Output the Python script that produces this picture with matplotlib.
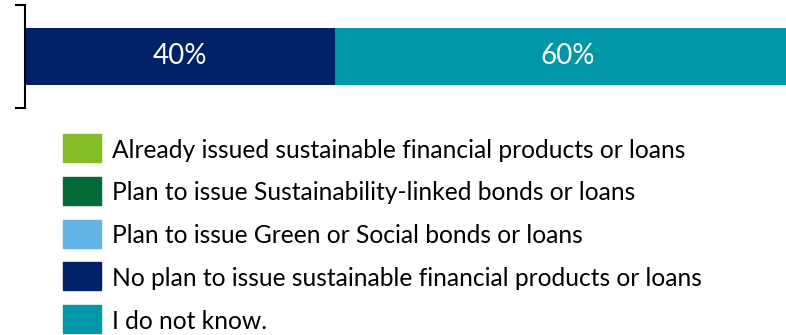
import matplotlib.pyplot as plt
from matplotlib.patches import Rectangle

plt.rcParams['font.family'] = ['Lato', 'DejaVu Sans']

categories = [
    'Already issued sustainable financial products or loans',
    'Plan to issue Sustainability-linked bonds or loans',
    'Plan to issue Green or Social bonds or loans',
    'No plan to issue sustainable financial products or loans',
    'I do not know.',
]
shares = [0, 0, 0, 40, 60]
colors = ['#86bc25', '#046a38', '#62b5e5', '#012169', '#0097a9']

W, H = 786, 335
fig = plt.figure(figsize=(W / 100, H / 100), dpi=100)
# axes run a little past the right edge, so the bar is cut off there
ax = fig.add_axes([25 / W, (H - 108) / H, 775 / W, 103 / H])

left = 0
for name, val, col in zip(categories, shares, colors):
    ax.barh(0, val, left=left, height=0.563, color=col, label=name)
    if val > 0:
        ax.text(left + val / 2, 0, f'{val}%', color='white', fontsize=20,
                ha='center', va='center')
    left += val

ax.set_xlim(0, 100)
ax.set_ylim(-0.5, 0.5)
for s in ['top', 'right', 'bottom']:
    ax.spines[s].set_visible(False)
ax.spines['left'].set_linewidth(1.5)
ax.set_xticks([])
ax.set_yticks([-0.5, 0.5])
ax.set_yticklabels([])
ax.tick_params(axis='y', length=7.5, width=1.5, direction='out')

# legend drawn by hand: big square swatches, one row per category
for i, (name, col) in enumerate(zip(categories, colors)):
    top = 134 + i * 42.8
    fig.add_artist(Rectangle((63 / W, 1 - (top + 28) / H), 38 / W, 28 / H,
                             transform=fig.transFigure, color=col))
    fig.text(112 / W, 1 - (top + 23.5) / H, name, fontsize=17.7,
             ha='left', va='baseline')

fig.savefig('out.png', dpi=100)
